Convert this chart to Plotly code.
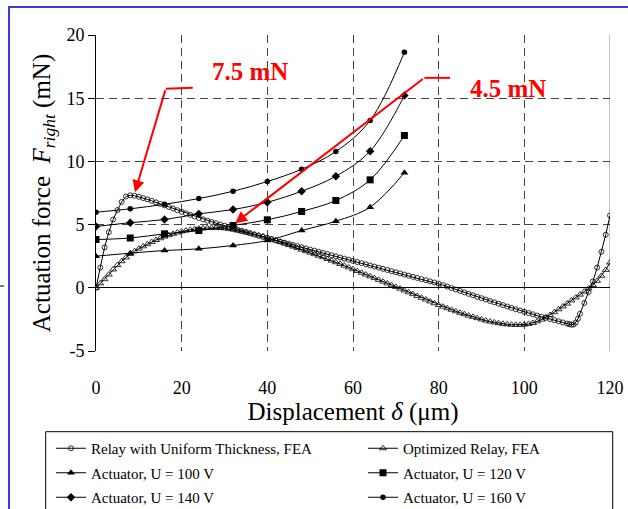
import plotly.graph_objects as go

# ---------------- data ----------------
relay_x = list(range(0, 111)) + [110.5, 111, 111.5, 112, 112.5, 113, 114, 115, 116, 117, 118, 119, 120]
relay_y = [0, 1.6, 3.2, 4.4, 5.4, 6.15, 6.8, 7.22, 7.32, 7.28,
           7.2, 7.1, 7.0, 6.88, 6.76, 6.64, 6.52, 6.4, 6.27, 6.14,
           6.01, 5.89, 5.77, 5.65, 5.53, 5.42, 5.31, 5.21, 5.11, 5.01,
           4.91, 4.81, 4.71, 4.61, 4.51, 4.41, 4.31, 4.21, 4.11, 4.02,
           3.93, 3.84, 3.75, 3.66, 3.57, 3.48, 3.39, 3.3, 3.21, 3.12,
           3.03, 2.94, 2.85, 2.76, 2.67, 2.58, 2.49, 2.4, 2.31, 2.22,
           2.13, 2.04, 1.95, 1.86, 1.77, 1.68, 1.59, 1.5, 1.41, 1.32,
           1.23, 1.14, 1.05, 0.96, 0.87, 0.78, 0.69, 0.6, 0.51, 0.42,
           0.33, 0.21, 0.1, -0.02, -0.13, -0.25, -0.36, -0.48, -0.59, -0.71,
           -0.82, -0.93, -1.04, -1.15, -1.26, -1.37, -1.48, -1.59, -1.7, -1.8,
           -1.9, -2.0, -2.1, -2.2, -2.29, -2.38, -2.47, -2.56, -2.65, -2.74,
           -2.83,
           -2.88, -2.92, -2.9, -2.75, -2.45, -2.05, -1.2, -0.35, 0.5, 1.6, 2.85, 4.2, 5.72]

opt_x = list(range(0, 121))
opt_y = [0, 0.35, 0.68, 1.05, 1.45, 1.8, 2.1, 2.4, 2.68, 2.9,
         3.1, 3.28, 3.45, 3.62, 3.78, 3.92, 4.05, 4.16, 4.27, 4.37,
         4.46, 4.53, 4.59, 4.64, 4.68, 4.71, 4.73, 4.74, 4.74, 4.73,
         4.7, 4.66, 4.6, 4.53, 4.46, 4.39, 4.31, 4.23, 4.15, 4.07,
         3.98, 3.86, 3.74, 3.62, 3.5, 3.38, 3.26, 3.14, 3.02, 2.9,
         2.78, 2.66, 2.54, 2.42, 2.28, 2.15, 2.02, 1.89, 1.75, 1.61,
         1.47, 1.33, 1.19, 1.05, 0.91, 0.77, 0.63, 0.49, 0.35, 0.21,
         0.07, -0.07, -0.21, -0.35, -0.5, -0.64, -0.79, -0.93, -1.08, -1.22,
         -1.36, -1.49, -1.62, -1.74, -1.86, -1.98, -2.09, -2.2, -2.3, -2.4,
         -2.5, -2.59, -2.67, -2.74, -2.8, -2.85, -2.89, -2.92, -2.93, -2.93,
         -2.91, -2.86, -2.78, -2.66, -2.52, -2.33, -2.15, -1.93, -1.7, -1.48,
         -1.25, -1.0, -0.77, -0.54, -0.3, -0.05, 0.22, 0.55, 0.95, 1.42,
         2.0]

act_x = [0, 8, 16, 24, 32, 40, 48, 56, 64, 72]
act_100 = [2.5, 2.74, 2.95, 3.08, 3.35, 3.74, 4.53, 5.27, 6.38, 9.10]
act_120 = [3.82, 3.94, 4.27, 4.53, 4.93, 5.38, 6.04, 6.91, 8.54, 12.05]
act_140 = [4.85, 5.15, 5.40, 5.85, 6.19, 6.77, 7.64, 8.83, 10.81, 15.21]
act_160 = [5.98, 6.25, 6.61, 7.06, 7.64, 8.41, 9.38, 10.78, 13.24, 18.64]

x_ticks = [0, 20, 40, 60, 80, 100, 120]
y_ticks = [-5, 0, 5, 10, 15, 20]
y_ticktext = ["-5", "0", "5", "10", "15", "20"]

FONT = "Liberation Serif"

# ---------------- figure ----------------
fig = go.Figure()

fig.add_trace(go.Scatter(
    x=relay_x, y=relay_y, mode="lines+markers", name="Relay with Uniform Thickness, FEA",
    line=dict(color="black", width=1),
    marker=dict(symbol="circle-open", size=5, color="black", line=dict(width=0.8)),
    legend="legend", legendgroup="a"))
fig.add_trace(go.Scatter(
    x=opt_x, y=opt_y, mode="lines+markers", name="Optimized Relay, FEA",
    line=dict(color="black", width=1),
    marker=dict(symbol="triangle-up-open", size=6, color="black", line=dict(width=0.8)),
    legend="legend2", legendgroup="b"))
fig.add_trace(go.Scatter(
    x=act_x, y=act_100, mode="lines+markers", name="Actuator, U = 100 V",
    line=dict(color="black", width=1, shape="spline"),
    marker=dict(symbol="triangle-up", size=7, color="black"),
    legend="legend", legendgroup="c"))
fig.add_trace(go.Scatter(
    x=act_x, y=act_120, mode="lines+markers", name="Actuator, U = 120 V",
    line=dict(color="black", width=1, shape="spline"),
    marker=dict(symbol="square", size=7, color="black"),
    legend="legend2", legendgroup="d"))
fig.add_trace(go.Scatter(
    x=act_x, y=act_140, mode="lines+markers", name="Actuator, U = 140 V",
    line=dict(color="black", width=1, shape="spline"),
    marker=dict(symbol="diamond", size=6.5, color="black"),
    legend="legend", legendgroup="e"))
fig.add_trace(go.Scatter(
    x=act_x, y=act_160, mode="lines+markers", name="Actuator, U = 160 V",
    line=dict(color="black", width=1, shape="spline"),
    marker=dict(symbol="circle", size=5.5, color="black"),
    legend="legend2", legendgroup="f"))

W, H = 628, 509
L, R, T, B = 96, 18, 35, 158
pw, ph = W - L - R, H - T - B


def px_x(p):
    return (p - L) / pw


def px_y(p):
    return (H - B - p) / ph


grid = dict(showgrid=True, gridcolor="#444444", griddash="8px,5px", gridwidth=1)

fig.update_xaxes(range=[0, 120], tickvals=x_ticks, ticks="", ticklabelstandoff=24,
                 tickfont=dict(family=FONT, size=18, color="black"),
                 zeroline=False, showline=False,
                 title=dict(text="Displacement <i>δ</i> (μm)", font=dict(family=FONT, size=25, color="black"),
                            standoff=2),
                 **grid)
fig.update_yaxes(range=[-5, 20], tickvals=y_ticks, ticktext=y_ticktext,
                 ticks="outside", ticklen=7, tickcolor="black",
                 tickfont=dict(family=FONT, size=18, color="black"),
                 showline=True, linecolor="black", linewidth=1,
                 zeroline=True, zerolinecolor="black", zerolinewidth=1,
                 title=dict(text="Actuation force  <i>F</i><sub><i>right</i></sub> (mN)",
                            font=dict(family=FONT, size=25, color="black"), standoff=8),
                 **grid)

legend_common = dict(orientation="v", xanchor="left", yanchor="top", borderwidth=0,
                     bgcolor="rgba(0,0,0,0)", tracegroupgap=2,
                     font=dict(family=FONT, size=15, color="black"))

shapes = [
    # plot-area border (gray) on the right
    dict(type="line", xref="x", yref="y", x0=120, x1=120, y0=-5, y1=20,
         line=dict(color="#808080", width=1), layer="below"),
    # red leader segments
    dict(type="line", xref="x", yref="y", x0=22.6, y0=15.82, x1=16.27, y1=15.74,
         line=dict(color="red", width=2)),
    dict(type="line", xref="x", yref="y", x0=82.65, y0=16.61, x1=76.65, y1=16.61,
         line=dict(color="red", width=2)),
    # legend box
    dict(type="rect", xref="paper", yref="paper", x0=px_x(45.7), x1=px_x(612.7),
         y0=px_y(520), y1=px_y(431.7), line=dict(color="black", width=1)),
    # blue slide frame
    dict(type="line", xref="paper", yref="paper", x0=px_x(9), x1=px_x(9), y0=px_y(7), y1=px_y(515),
         line=dict(color="#3a3ad4", width=2)),
    dict(type="line", xref="paper", yref="paper", x0=px_x(8), x1=px_x(640), y0=px_y(7), y1=px_y(7),
         line=dict(color="#3a3ad4", width=2)),
    dict(type="line", xref="paper", yref="paper", x0=px_x(0), x1=px_x(4), y0=px_y(286), y1=px_y(286),
         line=dict(color="black", width=1)),
]

annotations = [
    dict(x=9.1, y=7.56, ax=16.27, ay=15.74, xref="x", yref="y", axref="x", ayref="y",
         text="", showarrow=True, arrowhead=2, arrowsize=1.2, arrowwidth=2, arrowcolor="red"),
    dict(x=32.45, y=5.11, ax=76.65, ay=16.61, xref="x", yref="y", axref="x", ayref="y",
         text="", showarrow=True, arrowhead=2, arrowsize=1.2, arrowwidth=2, arrowcolor="red"),
    dict(x=35.96, y=17.11, xref="x", yref="y", text="<b>7.5 mN</b>", showarrow=False,
         font=dict(family=FONT, size=25, color="red")),
    dict(x=96.1, y=15.77, xref="x", yref="y", text="<b>4.5 mN</b>", showarrow=False,
         font=dict(family=FONT, size=25, color="red")),
]

fig.update_layout(
    width=W, height=H,
    margin=dict(l=L, r=R, t=T, b=B, autoexpand=False),
    paper_bgcolor="white", plot_bgcolor="white",
    showlegend=True,
    legend=dict(x=px_x(51), y=px_y(432), **legend_common),
    legend2=dict(x=px_x(363), y=px_y(432), **legend_common),
    shapes=shapes,
    annotations=annotations,
)

fig.write_html("out.html")
